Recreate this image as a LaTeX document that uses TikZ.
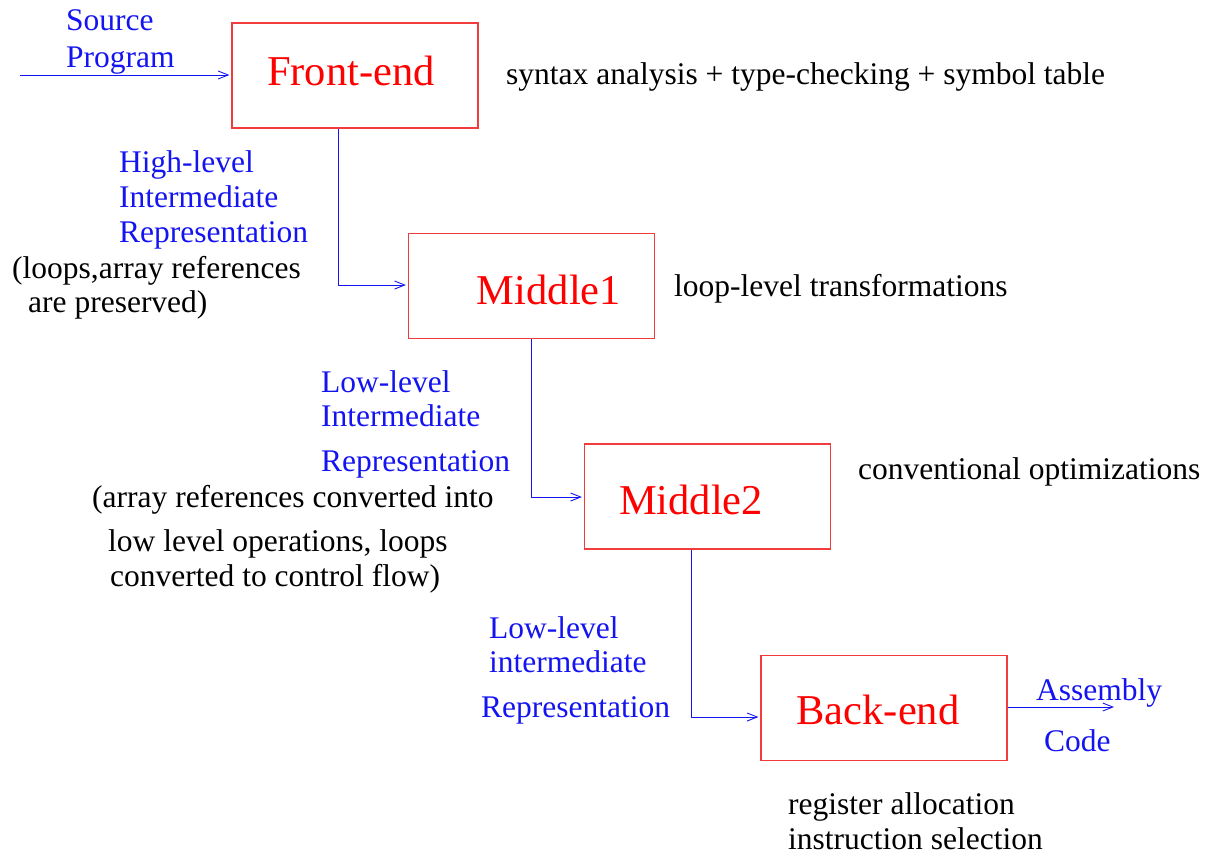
\documentclass[tikz,border=0pt]{standalone}
\usepackage{fontspec}
\setmainfont{Liberation Serif}
\usetikzlibrary{arrows.meta}
\definecolor{boxred}{RGB}{240,60,60}
\definecolor{lblue}{RGB}{20,20,240}
\tikzset{
  stage/.style={draw=boxred, line width=1.3pt, minimum width=246pt, minimum height=105pt, inner sep=0pt},
  title/.style={text=red, font=\fontsize{42.5}{46}\selectfont, anchor=base, inner sep=0pt},
  blbl/.style={anchor=base west, inner sep=0pt, text=lblue, font=\fontsize{31.5}{34}\selectfont},
  kl/.style={anchor=base west, inner sep=0pt, text=black, font=\fontsize{31.5}{34}\selectfont},
  flow/.style={draw=lblue, line width=0.9pt, -{Straight Barb[length=10pt,width=8pt]}, shorten >=2pt},
}
\begin{document}
\begin{tikzpicture}[x=1pt,y=-1pt]
\useasboundingbox (0,0) rectangle (1206,855);
% stages
\node[stage] (fe) at (355,75.5) {};
\node[title] (fet) at (351,85) {Front-end};
\node[stage] (m1) at (531.5,286) {};
\node[title] (m1t) at (549,304) {Middle1};
\node[stage] (m2) at (707.5,496.5) {};
\node[title] (m2t) at (691,514) {Middle2};
\node[stage] (be) at (884,708) {};
\node[title] (bet) at (878,724) {Back-end};
% coordinates
\coordinate (src) at (20,75);
\coordinate (c1) at (338,285);
\coordinate (c2) at (531,497);
\coordinate (c3) at (691,717);
\coordinate (out) at (1114,707);
% connectors
\draw[flow] (src) -- (src -| fe.west);
\draw[flow] (fe.south -| c1) -- (c1) -- (c1 -| m1.west);
\draw[flow] (m1.south -| c2) -- (c2) -- (c2 -| m2.west);
\draw[flow] (m2.south -| c3) -- (c3) -- (c3 -| be.west);
\draw[flow, shorten >=0pt] (be.east |- out) -- (out);
% blue labels
\node[blbl] (s1) at (66,30) {Source};
\node[blbl] (s2) at (66,67) {Program};
\node[blbl] (h1) at (119,172) {High-level};
\node[blbl] (h2) at (119,207) {Intermediate};
\node[blbl] (h3) at (119,242) {Representation};
\node[blbl] (l1) at (321,392) {Low-level};
\node[blbl] (l2) at (321,426) {Intermediate};
\node[blbl] (l3) at (321,471) {Representation};
\node[blbl] (b1) at (489,638) {Low-level};
\node[blbl] (b2) at (489,672) {intermediate};
\node[blbl] (b3) at (481,717) {Representation};
\node[blbl] (a1) at (1036,700) {Assembly};
\node[blbl] (a2) at (1044,751) {Code};
% black labels
\node[kl] (k1) at (506,84) {syntax analysis + type-checking + symbol table};
\node[kl] (k2) at (674,296) {loop-level transformations};
\node[kl] (k3) at (858,479) {conventional optimizations};
\node[kl] (p1) at (12,278) {(loops,array references};
\node[kl] (p2) at (28,312) {are preserved)};
\node[kl] (q1) at (92,507) {(array references converted into};
\node[kl] (q2) at (108,551) {low level operations, loops};
\node[kl] (q3) at (110,586) {converted to control flow)};
\node[kl] (r1) at (788,814) {register allocation};
\node[kl] (r2) at (788,849) {instruction selection};
\end{tikzpicture}
\end{document}
